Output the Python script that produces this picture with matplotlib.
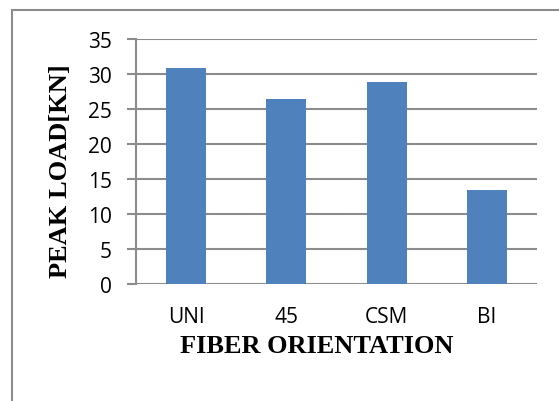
import matplotlib
matplotlib.use("Agg")
import matplotlib.pyplot as plt
from matplotlib.patches import Rectangle

categories = ["UNI", "45", "CSM", "BI"]
peak_load = [30.8, 26.4, 28.9, 13.4]
yticks = [0, 5, 10, 15, 20, 25, 30, 35]

W, H = 559, 402
fig = plt.figure(figsize=(W / 100, H / 100), dpi=100)
ax = fig.add_axes([136 / W, 1 - 285 / H, (537 - 136) / W, (285 - 40) / H])

grey = "#8c8c8c"
x = range(len(categories))
ax.bar(x, peak_load, width=0.4, color="#4f81bd", zorder=3)

ax.set_xlim(-0.5, len(categories) - 0.5)
ax.set_ylim(0, 35)
ax.set_yticks(yticks)
ax.set_xticks(list(x))
ax.set_xticklabels(categories)
ax.yaxis.grid(True, color=grey, linewidth=1.5, zorder=0)
ax.set_axisbelow(True)

for s in ["top", "right", "bottom"]:
    ax.spines[s].set_visible(False)
ax.spines["left"].set_color(grey)
ax.spines["left"].set_linewidth(1.5)

for lab in ax.get_xticklabels() + ax.get_yticklabels():
    lab.set_fontfamily("Open Sans")
    lab.set_fontsize(15)
ax.tick_params(axis="y", length=6.5, width=1.5, color=grey, pad=11)
ax.tick_params(axis="x", length=0, pad=16)

label_font = {"family": "Liberation Serif", "weight": "bold", "size": 19}
ax.set_ylabel("PEAK LOAD[KN]", fontdict=label_font, va="center")
ax.yaxis.set_label_coords((61 - 136) / 401, (285 - 171) / 245)
ax.set_xlabel("FIBER ORIENTATION", fontdict=label_font, va="center")
ax.xaxis.set_label_coords((317 - 136) / 401, (285 - 347) / 245)

# chart area frame, running off the right and bottom edges
fig.patches.append(Rectangle((12 / W, -0.2), 1.2, 1.2 - 11 / H, transform=fig.transFigure,
                             fill=False, edgecolor=grey, linewidth=1.5))

fig.savefig("out.png", dpi=100, facecolor="white")
